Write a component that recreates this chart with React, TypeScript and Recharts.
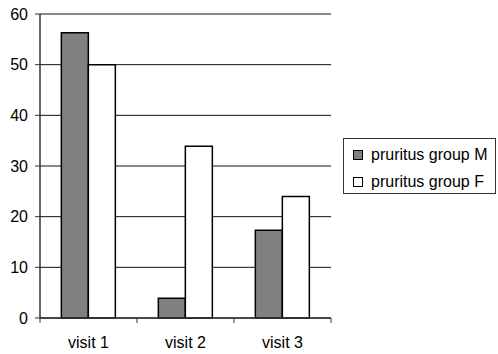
import { BarChart, Bar, XAxis, YAxis, CartesianGrid } from "recharts";

const visits = ["visit 1", "visit 2", "visit 3"];
const groupM = [56.3, 3.9, 17.3];
const groupF = [50, 33.9, 24];
const yTicks = [0, 10, 20, 30, 40, 50, 60];

const series = [
  { key: "m", name: "pruritus group M", fill: "#808080" },
  { key: "f", name: "pruritus group F", fill: "#ffffff" },
];

const data = visits.map((v, i) => ({ visit: v, m: groupM[i], f: groupF[i] }));

const fontFamily = "'Liberation Sans', Arial, sans-serif";
const font = { fontFamily, fontSize: 16, fill: "#000" };

// category tick: label at band centre, tick marks on the band edges
function VisitTick(props: any) {
  const { x, y, payload, index, visibleTicksCount } = props;
  const half = payload.offset ?? 0;
  const isLast = index === (visibleTicksCount ?? visits.length) - 1;
  return (
    <g>
      <line x1={x - half} x2={x - half} y1={y - 19} y2={y - 14} stroke="#333" />
      {isLast && <line x1={x + half} x2={x + half} y1={y - 19} y2={y - 14} stroke="#333" />}
      <text x={x} y={y} dy="0.71em" textAnchor="middle" {...font}>
        {payload.value}
      </text>
    </g>
  );
}

export default function App() {
  return (
    <div style={{ position: "fixed", left: 0, top: 0, width: 498, height: 354, background: "#fff" }}>
      <BarChart
        width={498}
        height={354}
        data={data}
        margin={{ top: 14, right: 167, bottom: 0, left: 0 }}
        barCategoryGap="22%"
        barGap={0}
      >
        <CartesianGrid vertical={false} stroke="#111" strokeWidth={1} />
        <XAxis
          dataKey="visit"
          axisLine={{ stroke: "#333", strokeWidth: 1.5 }}
          tickLine={false}
          tickSize={0}
          tickMargin={19}
          height={36}
          tick={<VisitTick />}
        />
        <YAxis
          domain={[0, 60]}
          ticks={yTicks}
          width={40}
          axisLine={{ stroke: "#333", strokeWidth: 1.5 }}
          tickLine={{ stroke: "#333" }}
          tickSize={5}
          tickMargin={7}
          tick={font}
        />
        <YAxis
          yAxisId="right"
          orientation="right"
          domain={[0, 60]}
          width={0}
          tick={false}
          tickLine={false}
          axisLine={{ stroke: "#333", strokeWidth: 1.5 }}
        />
        {series.map((s) => (
          <Bar
            key={s.key}
            dataKey={s.key}
            name={s.name}
            fill={s.fill}
            stroke="#000"
            strokeWidth={1.5}
            isAnimationActive={false}
          />
        ))}
      </BarChart>
      <div
        style={{
          position: "absolute",
          left: 343,
          top: 138,
          width: 153,
          height: 56,
          border: "1px solid #333",
          boxSizing: "border-box",
          fontFamily,
          fontSize: 16,
        }}
      >
        {series.map((s, i) => (
          <div
            key={s.key}
            style={{ position: "absolute", left: 9, top: 7 + i * 27, display: "flex", alignItems: "center", height: 18, whiteSpace: "nowrap" }}
          >
            <span
              style={{ display: "inline-block", width: 10, height: 10, background: s.fill, border: "1px solid #000", boxSizing: "border-box", marginRight: 8 }}
            />
            {s.name}
          </div>
        ))}
      </div>
    </div>
  );
}
